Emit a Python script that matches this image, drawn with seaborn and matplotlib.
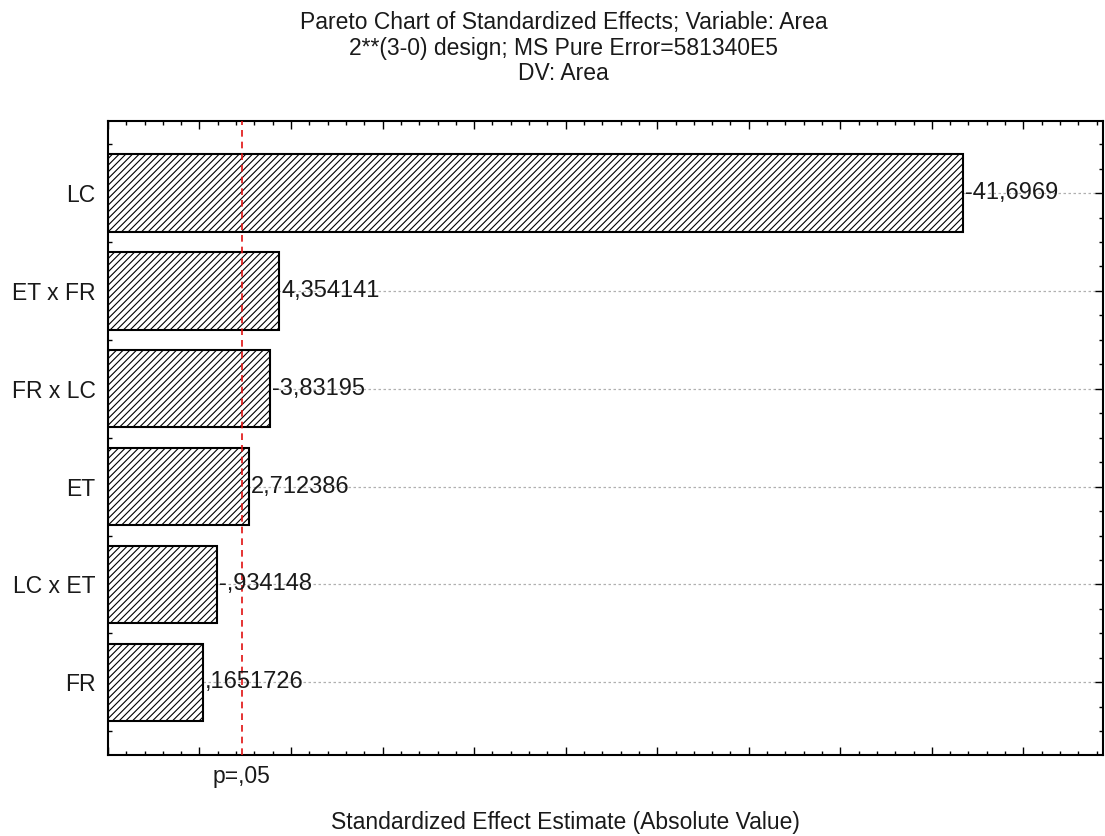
import matplotlib
matplotlib.use("Agg")
import matplotlib.pyplot as plt
import seaborn as sns
import pandas as pd
from matplotlib.ticker import MultipleLocator

# effects sorted by absolute standardized effect (t-value)
effects = ["LC", "ET x FR", "FR x LC", "ET", "LC x ET", "FR"]
t_values = [-41.6969, 4.354141, -3.83195, 2.712386, -0.934148, 0.1651726]
value_labels = ["-41,6969", "4,354141", "-3,83195", "2,712386", "-,934148", ",1651726"]
t_crit = 2.306
title_lines = [
    "Pareto Chart of Standardized Effects; Variable: Area",
    "2**(3-0) design; MS Pure Error=581340E5",
    "DV: Area",
]
x_min, x_max = -5, 49.35

sns.set_theme(style="white")
plt.rcParams["font.family"] = ["Liberation Sans", "DejaVu Sans"]
plt.rcParams["hatch.linewidth"] = 0.8
plt.rcParams["hatch.color"] = "black"

df = pd.DataFrame({"effect": effects, "t": t_values})
df["abs_t"] = df["t"].abs()

fig = plt.figure(figsize=(11.05, 8.36), dpi=100)
ax = fig.add_axes([0.0977, 0.0973, 0.9005, 0.7583])
ax.set_axisbelow(True)

sns.barplot(data=df, x="abs_t", y="effect", orient="h", color="white",
            saturation=1, edgecolor="black", linewidth=1.5, width=0.79,
            errorbar=None, ax=ax)

# STATISTICA draws the bars from the left edge of the axis, not from zero
for p in ax.patches:
    p.set_hatch("/////")
    p.set_width(p.get_width() - x_min)
    p.set_x(x_min)
    p.set_zorder(2)

ax.set_xlim(x_min, x_max)
ax.set_ylim(len(effects) - 0.26, -0.74)

ax.yaxis.grid(True, linestyle=(0, (2, 2)), color="#b0b0b0", linewidth=0.9)
ax.xaxis.grid(False)

ax.axvline(t_crit, color="#e01010", linestyle=(0, (4, 3)), linewidth=1.2, zorder=3)

for i, (v, lab) in enumerate(zip(df["abs_t"], value_labels)):
    ax.text(v + 0.12, i, lab, ha="left", va="center", fontsize=17, color="#1a1a1a", zorder=4)

ax.xaxis.set_major_locator(MultipleLocator(5))
ax.xaxis.set_minor_locator(MultipleLocator(1))
ax.yaxis.set_minor_locator(MultipleLocator(0.25))
ax.set_xticklabels([])
ax.tick_params(which="both", direction="in", top=True, right=True,
               bottom=True, left=True, color="black", width=1)
ax.tick_params(which="major", length=6)
ax.tick_params(which="minor", length=3)
ax.tick_params(axis="y", which="major", labelsize=16.5, pad=9, labelcolor="#1a1a1a")
ax.set_xlabel("")
ax.set_ylabel("")

for s in ax.spines.values():
    s.set_color("black")
    s.set_linewidth(1.5)

ax.text(t_crit, -0.034, "p=,05", transform=ax.get_xaxis_transform(),
        ha="center", va="center", fontsize=16.5, color="#1a1a1a")

fig.text(0.512, 1 - 822 / 836, "Standardized Effect Estimate (Absolute Value)",
         ha="center", va="center", fontsize=16.5, color="#1a1a1a")

for y_px, line in zip([23, 49, 74], title_lines):
    fig.text(0.51, 1 - y_px / 836, line, ha="center", va="center",
             fontsize=16.5, color="#1a1a1a")

fig.savefig("out.png", dpi=100)
